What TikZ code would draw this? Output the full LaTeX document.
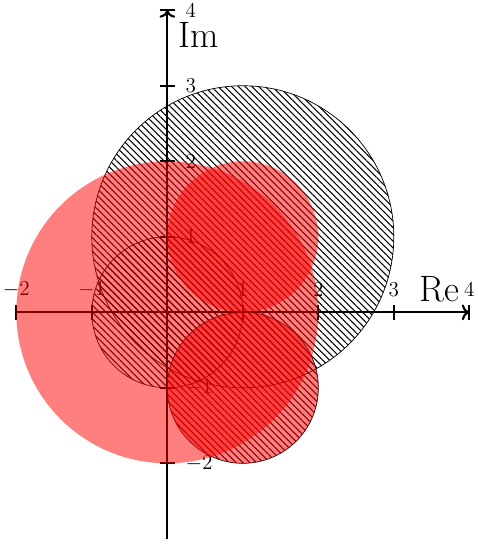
\documentclass[tikz,border=0pt]{standalone}
\usepackage{amsmath,amssymb}
\usepackage{tikz}
\usetikzlibrary{arrows.meta,patterns.meta}

\begin{document}
\begin{tikzpicture}[>=To, scale=1.5, every node/.style={font=\large},
  axisline/.style={very thick},
  hatched/.style={draw=black, pattern={Lines[angle=-45, distance=2.7pt, line width=0.6pt]}},
  redfill/.style={fill=red, fill opacity=0.5},
  biglabel/.style={font=\huge}]
  \useasboundingbox (-2.216,-3.069) rectangle (4.102,4.136);

  % axes with ticks
  \coordinate (xstart) at (-2,0);
  \coordinate (xend) at (4,0);
  \coordinate (ystart) at (0,-3);
  \coordinate (yend) at (0,4);
  \draw[axisline,->] (xstart)--(xend);
  \draw[axisline,->] (ystart)--(yend);
  \foreach \t [count=\i] in {-2,-1,1,2,3,4} {
    \draw[axisline] (\t,-0.1)--(\t,0.1);
    \node (xtick\i) at (\t,0.3) {$\t$};
    \draw[axisline] (-0.1,\t)--(0.1,\t);
    \node[right] (ytick\i) at (0.16,\t) {$\t$};
  }
  \node[biglabel] (re) at (3.6,0.3) {Re};
  \node[biglabel] (im) at (0.42,3.67) {Im};

  % hatched discs
  \draw[hatched] (1,1) circle (2);
  \draw[hatched] (0,0) circle (1);
  \draw[hatched] (1,-1) circle (1);

  % red discs
  \fill[redfill] (0,0) circle (2);
  \fill[redfill] (1,1) circle (1);
  \fill[redfill] (1,-1) circle (1);
\end{tikzpicture}
\end{document}
